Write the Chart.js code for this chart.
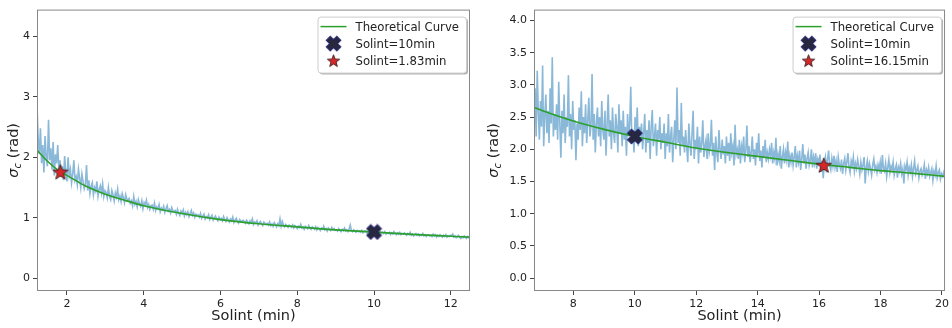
<!DOCTYPE html>
<html>
<head>
<meta charset="utf-8">
<script src="https://cdn.jsdelivr.net/npm/chart.js@4.4.0/dist/chart.umd.min.js"></script>
<style>
  html, body { margin: 0; padding: 0; background: #fff; }
  #wrap { position: relative; width: 952px; height: 328px; }
  canvas { position: absolute; top: 0; }
  #left { left: 0; }
  #right { left: 476px; }
</style>
</head>
<body>
<div id="wrap">
  <canvas id="left" width="476" height="328"></canvas>
  <canvas id="right" width="476" height="328"></canvas>
</div>
<script>
// ---- left panel: sampled solint 1.22 .. 12.5 min, every 0.03 min
const leftStart = 1.22, leftStep = 0.03;
const leftSigma = [
  2.85, 2.30, 2.05, 2.48, 1.90, 2.20, 1.75, 2.35, 2.00, 1.85, 2.62, 1.95, 2.15, 1.80, 2.25, 1.70, 2.05, 1.90, 2.20, 1.78,
  1.95, 1.68, 1.85, 1.62, 2.02, 1.75, 1.60, 2.00, 1.70, 1.80, 1.58, 1.72, 1.95, 1.62, 1.68, 1.55, 1.80, 1.66, 1.50, 1.72,
  1.60, 1.48, 1.55, 1.87, 1.45, 1.62, 1.40, 1.52, 1.58, 1.38, 1.50, 1.44, 1.60, 1.36, 1.47, 1.53, 1.41, 1.56, 1.35, 1.45,
  1.42, 1.33, 1.50, 1.36, 1.30, 1.45, 1.38, 1.28, 1.41, 1.34, 1.47, 1.30, 1.36, 1.27, 1.40, 1.33, 1.25, 1.38, 1.31, 1.29,
  1.32, 1.24, 1.28, 1.20, 1.35, 1.22, 1.27, 1.18, 1.30, 1.23, 1.19, 1.28, 1.15, 1.25, 1.21, 1.29, 1.17, 1.22, 1.14, 1.20,
  1.21, 1.14, 1.24, 1.12, 1.18, 1.15, 1.22, 1.10, 1.16, 1.13, 1.19, 1.09, 1.15, 1.20, 1.11, 1.14, 1.08, 1.17, 1.12, 1.10,
  1.12, 1.06, 1.14, 1.08, 1.04, 1.11, 1.07, 1.13, 1.03, 1.09, 1.05, 1.10, 1.02, 1.07, 1.12, 1.04, 1.08, 1.01, 1.06, 1.04,
  1.05, 1.01, 1.07, 0.99, 1.03, 1.06, 0.98, 1.02, 1.00, 1.05, 0.97, 1.01, 1.04, 0.96, 1.00, 1.03, 0.98, 0.95, 1.01, 0.97,
  0.99, 0.95, 1.02, 0.97, 0.94, 1.00, 0.96, 0.93, 0.98, 0.95, 1.01, 0.92, 0.96, 0.99, 0.94, 0.91, 0.97, 0.95, 0.93, 0.96,
  0.94, 0.91, 0.96, 0.93, 0.90, 0.95, 0.92, 0.98, 0.89, 0.93, 0.91, 0.95, 0.88, 0.92, 0.94, 0.90, 0.87, 0.93, 0.91, 0.89,
  0.91, 0.88, 0.93, 0.87, 0.90, 0.86, 0.92, 0.89, 0.85, 0.90, 0.87, 0.98, 0.86, 0.94, 0.88, 0.85, 0.89, 0.87, 0.84, 0.88,
  0.86, 0.84, 0.88, 0.83, 0.87, 0.85, 0.82, 0.86, 0.84, 0.89, 0.83, 0.85, 0.81, 0.86, 0.84, 0.82, 0.87, 0.83, 0.81, 0.85,
  0.83, 0.81, 0.85, 0.80, 0.84, 0.82, 0.79, 0.83, 0.81, 0.86, 0.80, 0.82, 0.78, 0.83, 0.81, 0.79, 0.84, 0.80, 0.82, 0.79,
  0.80, 0.78, 0.82, 0.79, 0.77, 0.81, 0.79, 0.83, 0.78, 0.80, 0.77, 0.81, 0.88, 0.79, 0.77, 0.80, 0.78, 0.76, 0.79, 0.77,
  0.78, 0.76, 0.79, 0.75, 0.77, 0.78, 0.76, 0.74, 0.77, 0.75, 0.78, 0.76, 0.74, 0.77, 0.75, 0.73, 0.76, 0.74, 0.77, 0.75,
  0.76, 0.74, 0.77, 0.73, 0.75, 0.74, 0.76, 0.72, 0.75, 0.73, 0.77, 0.74, 0.72, 0.75, 0.73, 0.76, 0.72, 0.74, 0.73, 0.75,
  0.73, 0.71, 0.74, 0.72, 0.76, 0.71, 0.73, 0.70, 0.72, 0.74, 0.71, 0.73, 0.70, 0.72, 0.71, 0.74, 0.70, 0.72, 0.69, 0.71,
  0.72, 0.70, 0.71, 0.69, 0.73, 0.70, 0.72, 0.68, 0.71, 0.69, 0.72, 0.70, 0.68, 0.71, 0.69, 0.72, 0.68, 0.70, 0.69, 0.71,
  0.70, 0.73, 0.68, 0.70, 0.67, 0.69, 0.71, 0.68, 0.66, 0.69, 0.67, 0.70, 0.68, 0.66, 0.69, 0.67, 0.68
];
const leftTheoryX = [1.22, 1.5, 1.83, 2, 2.5, 3, 3.5, 4, 5, 6, 7, 8, 9, 10, 11, 12, 12.5];
const leftTheoryY = [2.12, 1.93, 1.76, 1.70, 1.52, 1.39, 1.29, 1.20, 1.07, 0.97, 0.90, 0.85, 0.80, 0.765, 0.725, 0.695, 0.68];
const leftRefX = [10], leftRefY = [0.765];
const leftBestX = [1.83], leftBestY = [1.76];
const leftXTicks = [2, 4, 6, 8, 10, 12];
const leftYTicks = [0, 1, 2, 3, 4];

// ---- right panel: sampled solint 6.72 .. 20.09 min, every 0.035 min
const rightStart = 6.72, rightStep = 0.035;
const rightSigma = [
  2.45, 2.95, 2.20, 3.22, 2.60, 2.15, 2.75, 2.35, 3.30, 2.05, 2.50, 2.85, 2.25, 2.60, 2.10, 2.95, 2.40, 3.43, 2.20, 2.55,
  2.30, 2.70, 2.15, 3.05, 2.40, 1.87, 2.60, 2.25, 2.85, 2.10, 2.50, 2.35, 3.15, 2.20, 2.55, 2.00, 2.75, 2.30, 2.45, 1.83,
  2.40, 2.15, 2.65, 2.30, 2.90, 2.05, 2.50, 2.25, 2.70, 2.10, 2.45, 2.80, 2.20, 2.35, 3.17, 2.15, 2.55, 1.95, 2.40, 2.65,
  2.20, 2.50, 2.05, 2.75, 2.30, 2.15, 2.60, 1.90, 2.40, 2.85, 2.20, 2.45, 2.00, 2.65, 2.25, 2.10, 2.55, 2.35, 1.95, 2.70,
  2.25, 2.45, 2.05, 2.60, 2.15, 2.35, 1.90, 2.55, 2.20, 2.40, 2.97, 2.10, 2.30, 1.95, 2.50, 2.15, 2.65, 2.05, 2.35, 2.20,
  2.40, 2.00, 2.25, 2.55, 1.95, 2.30, 2.10, 2.45, 1.85, 2.35, 2.61, 2.05, 2.20, 2.40, 1.90, 2.30, 2.15, 2.50, 2.00, 2.25,
  2.10, 2.40, 1.85, 2.25, 2.05, 2.55, 1.95, 2.20, 2.35, 1.80, 2.15, 2.45, 2.00, 2.96, 2.10, 2.30, 1.90, 2.72, 2.05, 2.20,
  1.95, 2.30, 2.05, 1.80, 2.40, 2.10, 1.90, 2.25, 2.60, 1.85, 2.15, 2.00, 2.35, 1.78, 2.20, 1.95, 2.10, 2.45, 1.88, 2.05,
  2.15, 1.85, 2.25, 1.95, 2.05, 2.46, 1.90, 2.10, 1.68, 2.20, 1.95, 1.80, 2.30, 2.00, 1.85, 2.15, 1.92, 2.05, 1.78, 2.20,
  1.90, 2.10, 1.82, 2.25, 1.95, 2.05, 1.75, 2.38, 1.92, 2.00, 1.85, 2.15, 1.78, 2.05, 1.95, 2.20, 1.80, 1.98, 2.37, 1.88,
  2.05, 1.80, 1.95, 2.20, 1.85, 2.00, 1.75, 2.10, 1.90, 2.25, 1.82, 1.98, 1.72, 2.05, 1.88, 2.15, 1.80, 1.95, 1.85, 2.00,
  1.90, 2.10, 1.78, 1.95, 1.85, 2.18, 1.75, 1.92, 1.82, 2.05, 1.70, 1.88, 2.00, 1.78, 1.95, 1.84, 2.12, 1.72, 1.90, 1.80,
  1.95, 1.75, 1.88, 2.05, 1.72, 1.90, 1.80, 1.98, 1.68, 1.85, 2.08, 1.78, 1.92, 1.70, 1.86, 1.95, 1.75, 1.82, 2.00, 1.72,
  1.88, 1.78, 1.94, 1.70, 1.85, 1.80, 1.92, 1.65, 1.82, 1.55, 1.78, 1.88, 1.72, 1.84, 1.98, 1.75, 1.68, 1.86, 1.74, 1.90,
  1.72, 1.82, 1.65, 1.88, 1.76, 1.70, 1.84, 1.62, 1.78, 1.86, 1.68, 1.80, 1.94, 1.72, 1.64, 1.82, 1.75, 1.88, 1.66, 1.78,
  1.70, 1.84, 1.74, 1.62, 1.80, 1.68, 1.76, 1.88, 1.47, 1.72, 1.82, 1.66, 1.78, 1.70, 1.60, 1.76, 1.85, 1.68, 1.74, 1.64,
  1.76, 1.68, 1.80, 1.62, 1.91, 1.70, 1.66, 1.78, 1.58, 1.72, 1.84, 1.64, 1.74, 1.68, 1.80, 1.60, 1.70, 1.76, 1.56, 1.72,
  1.66, 1.78, 1.62, 1.70, 1.47, 1.74, 1.68, 1.80, 1.60, 1.72, 1.65, 1.76, 1.58, 1.70, 1.82, 1.62, 1.68, 1.74, 1.56, 1.66,
  1.70, 1.60, 1.66, 1.76, 1.54, 1.68, 1.62, 1.72, 1.58, 1.64, 1.70, 1.52, 1.66, 1.60, 1.74, 1.56, 1.64, 1.68, 1.54, 1.62,
  1.58, 1.64, 1.55
];
const rightTheoryX = [6.72, 7, 8, 9, 10, 11, 12, 13, 14, 15, 16, 17, 18, 19, 20.1];
const rightTheoryY = [2.65, 2.60, 2.44, 2.31, 2.20, 2.11, 2.02, 1.95, 1.89, 1.83, 1.77, 1.72, 1.67, 1.63, 1.58];
const rightRefX = [10], rightRefY = [2.2];
const rightBestX = [16.15], rightBestY = [1.755];
const rightXTicks = [8, 10, 12, 14, 16, 18, 20];
const rightYTicks = [0, 0.5, 1, 1.5, 2, 2.5, 3, 3.5, 4];

const FONT = '"DejaVu Sans", sans-serif';

// filled "X" marker like matplotlib's 'X'
function makeCross(size) {
  const c = document.createElement('canvas');
  c.width = c.height = size + 2;
  const g = c.getContext('2d');
  const h = size / 2, t = size * 0.19;
  g.translate(c.width / 2, c.height / 2);
  g.rotate(Math.PI / 4);
  g.beginPath();
  g.moveTo(-t, -h); g.lineTo(t, -h); g.lineTo(t, -t); g.lineTo(h, -t);
  g.lineTo(h, t); g.lineTo(t, t); g.lineTo(t, h); g.lineTo(-t, h);
  g.lineTo(-t, t); g.lineTo(-h, t); g.lineTo(-h, -t); g.lineTo(-t, -t);
  g.closePath();
  g.fillStyle = '#27273d';
  g.fill();
  g.lineWidth = 1;
  g.strokeStyle = '#22226e';
  g.stroke();
  return c;
}

function makeStar(r) {
  const c = document.createElement('canvas');
  c.width = c.height = Math.ceil(r * 2 + 2);
  const g = c.getContext('2d');
  g.translate(c.width / 2, c.height / 2 + r * 0.1);
  g.beginPath();
  for (let k = 0; k < 10; k++) {
    const rad = k % 2 ? r * 0.42 : r;
    const a = -Math.PI / 2 + k * Math.PI / 5;
    g.lineTo(rad * Math.cos(a), rad * Math.sin(a));
  }
  g.closePath();
  g.fillStyle = '#d62728';
  g.fill();
  g.lineWidth = 0.9;
  g.strokeStyle = '#3b2020';
  g.stroke();
  return c;
}

const crossImg = makeCross(15);
const starImg = makeStar(8);
const starLegendImg = makeStar(6.5);

// frame, y title with subscript, matplotlib-like legend
const decor = {
  id: 'decor',
  afterDraw(chart, args, opts) {
    const ctx = chart.ctx, a = chart.chartArea;
    ctx.save();
    ctx.strokeStyle = '#888';
    ctx.lineWidth = 1;
    ctx.strokeRect(a.left + 0.5, a.top + 0.5, a.right - a.left - 1, a.bottom - a.top - 1);

    // y title: sigma_c (rad)
    const cy = (a.top + a.bottom) / 2;
    ctx.translate(opts.titleX, cy);
    ctx.rotate(-Math.PI / 2);
    ctx.fillStyle = '#222';
    ctx.textBaseline = 'alphabetic';
    const parts = [
      { t: 'σ', f: 'italic 14.5px ' + FONT, dy: 0 },
      { t: 'c', f: 'italic 10px ' + FONT, dy: 3 },
      { t: ' (rad)', f: '14.5px ' + FONT, dy: 0 }
    ];
    let total = 0;
    parts.forEach(p => { ctx.font = p.f; p.w = ctx.measureText(p.t).width; total += p.w; });
    let px = -total / 2;
    parts.forEach(p => { ctx.font = p.f; ctx.fillText(p.t, px, 5 + p.dy); px += p.w; });
    ctx.restore();

    // legend
    const items = chart.data.datasets.filter(d => d.label);
    ctx.save();
    ctx.font = '11.7px ' + FONT;
    const textW = Math.max(...items.map(d => ctx.measureText(d.label).width));
    const w = 38 + textW + 7, h = 56;
    const x0 = a.right - 4 - w, y0 = a.top + 7;
    ctx.fillStyle = 'rgba(0,0,0,0.3)';
    ctx.beginPath(); ctx.roundRect(x0 + 2, y0 + 2, w, h, 3); ctx.fill();
    ctx.fillStyle = '#fff';
    ctx.strokeStyle = '#ccc';
    ctx.beginPath(); ctx.roundRect(x0 + 0.5, y0 + 0.5, w, h, 3); ctx.fill(); ctx.stroke();
    ctx.textBaseline = 'middle';
    items.forEach((d, i) => {
      const ry = y0 + 10 + i * 17;
      if (d.legendLine) {
        ctx.strokeStyle = d.borderColor;
        ctx.lineWidth = 1.5;
        ctx.beginPath(); ctx.moveTo(x0 + 3, ry); ctx.lineTo(x0 + 29, ry); ctx.stroke();
      } else {
        const img = d.legendImg;
        ctx.drawImage(img, x0 + 16 - img.width / 2, ry - img.height / 2);
      }
      ctx.fillStyle = '#222';
      ctx.fillText(d.label, x0 + 38, ry + 1);
    });
    ctx.restore();
  }
};

function pts(xs, ys) {
  return xs.map((x, i) => ({ x: x, y: ys[i] }));
}

function sampled(start, step, ys) {
  return ys.map((y, i) => ({ x: start + i * step, y: y }));
}

function buildChart(id, p) {
  const tickFont = { family: FONT, size: 11 };
  new Chart(document.getElementById(id), {
    type: 'line',
    data: {
      datasets: [
        { data: sampled(p.start, p.step, p.sigma), borderColor: 'rgba(31,119,180,0.52)',
          borderWidth: 1.6, pointRadius: 0, order: 3 },
        { label: 'Theoretical Curve', legendLine: true, data: pts(p.thX, p.thY),
          borderColor: '#2ca02c', borderWidth: 1.6, pointRadius: 0,
          cubicInterpolationMode: 'monotone', order: 2 },
        { label: 'Solint=10min', legendImg: crossImg, data: pts(p.refX, p.refY),
          showLine: false, pointStyle: crossImg, order: 1 },
        { label: p.bestLabel, legendImg: starLegendImg, data: pts(p.bestX, p.bestY),
          showLine: false, pointStyle: starImg, order: 0 }
      ]
    },
    options: {
      responsive: false,
      animation: false,
      events: [],
      layout: { padding: { top: 5, right: p.padRight, left: 0, bottom: 0 } },
      plugins: {
        legend: { display: false },
        tooltip: { enabled: false },
        decor: { titleX: p.titleX }
      },
      scales: {
        x: {
          type: 'linear', min: p.xMin, max: p.xMax,
          afterFit: s => { s.height = 37; },
          afterBuildTicks: s => { s.ticks = p.xTicks.map(v => ({ value: v })); },
          grid: { drawOnChartArea: false, drawTicks: true, tickLength: 4, tickColor: '#444' },
          border: { display: false },
          ticks: { font: tickFont, color: '#222', padding: 3, maxRotation: 0 },
          title: { display: true, text: 'Solint (min)', color: '#222',
                   font: { family: FONT, size: 14.5 }, padding: { top: 0, bottom: 3 } }
        },
        y: {
          type: 'linear', min: p.yMin, max: p.yMax,
          afterFit: s => { s.width = p.yWidth; },
          afterBuildTicks: s => { s.ticks = p.yTicks.map(v => ({ value: v })); },
          grid: { drawOnChartArea: false, drawTicks: true, tickLength: 4, tickColor: '#444' },
          border: { display: false },
          ticks: { font: tickFont, color: '#222', padding: 3,
                   callback: v => p.yFixed ? v.toFixed(1) : String(v) }
        }
      }
    },
    plugins: [decor]
  });
}

buildChart('left', {
  start: leftStart, step: leftStep, sigma: leftSigma,
  thX: leftTheoryX, thY: leftTheoryY,
  refX: leftRefX, refY: leftRefY, bestX: leftBestX, bestY: leftBestY,
  bestLabel: 'Solint=1.83min',
  xMin: 1.22, xMax: 12.5, yMin: -0.21, yMax: 4.44,
  xTicks: leftXTicks, yTicks: leftYTicks, yFixed: false,
  yWidth: 37, padRight: 6, titleX: 13
});

buildChart('right', {
  start: rightStart, step: rightStep, sigma: rightSigma,
  thX: rightTheoryX, thY: rightTheoryY,
  refX: rightRefX, refY: rightRefY, bestX: rightBestX, bestY: rightBestY,
  bestLabel: 'Solint=16.15min',
  xMin: 6.72, xMax: 20.1, yMin: -0.2, yMax: 4.17,
  xTicks: rightXTicks, yTicks: rightYTicks, yFixed: true,
  yWidth: 58, padRight: 2, titleX: 17
});
</script>
</body>
</html>
